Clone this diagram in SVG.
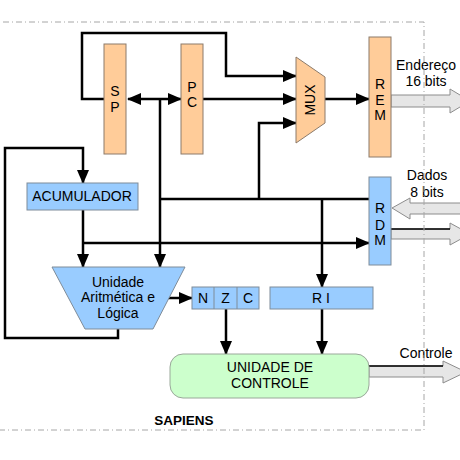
<svg xmlns="http://www.w3.org/2000/svg" width="460" height="460" viewBox="0 0 460 460">
<style>
.t{font-family:"Liberation Sans",Arial,sans-serif;font-size:14px;fill:#000;text-anchor:middle}
.b{font-weight:bold;font-size:13.5px}
.peach{fill:#FFCC99;stroke:#8C7B6B;stroke-width:1}
.blue{fill:#99CCFF;stroke:#7F8C99;stroke-width:1}
.green{fill:#CCFFCC;stroke:#9AA89A;stroke-width:1}
.bus{fill:#E6E6E6;stroke:#8C8C8C;stroke-width:1}
.c{fill:none;stroke:#000;stroke-width:2.5}
.ca{fill:none;stroke:#000;stroke-width:2.5;marker-end:url(#ah)}
.frame{fill:none;stroke:#A6A6A6;stroke-width:1;stroke-dasharray:6 3 1 3}
</style>
<defs>
<marker id="ah" markerUnits="userSpaceOnUse" markerWidth="14" markerHeight="12" refX="13" refY="6" orient="auto-start-reverse" viewBox="0 0 14 12">
<path d="M0,0 L14,6 L0,12 Z" fill="#000"/>
</marker>
</defs>
<rect width="460" height="460" fill="#fff"/>

<g id="buses">
<polygon class="bus" points="391,95 450,95 450,89 470,101 450,113 450,107 391,107"/>
<polygon class="bus" points="392,208 410,198 410,203 470,203 470,214 410,214 410,219"/>
<polygon class="bus" points="391,229 450,229 450,223 470,234 450,245 450,239 391,239"/>
<line x1="391" y1="229" x2="450" y2="229" stroke="#000" stroke-width="1.5"/>
<polygon class="bus" points="369,366 443,366 443,361 466,372 443,383 443,377 369,377"/>
<line x1="369" y1="366" x2="443" y2="366" stroke="#000" stroke-width="1.5"/>
</g>

<g id="connectors">
<path class="ca" d="M104,99 H82 V33 H226 V76 H296"/>
<path class="c" d="M128,99 H181" marker-start="url(#ah)" marker-end="url(#ah)"/>
<path class="ca" d="M160,99 V267"/>
<path class="c" d="M160,199 H369"/>
<path class="ca" d="M259,199 V123 H296"/>
<path class="ca" d="M203,99 H296"/>
<path class="ca" d="M325,99 H369"/>
<path class="ca" d="M322,199 V287"/>
<path class="ca" d="M83,210 V267"/>
<path class="ca" d="M83,243 H369"/>
<path class="ca" d="M118,329 V338 H5 V148 H83 V183"/>
<path class="ca" d="M168,298 H192"/>
<path class="ca" d="M226,309 V354"/>
<path class="ca" d="M322,309 V354"/>
</g>

<g id="SP">
<rect class="peach" x="104" y="44" width="22" height="110"/>
<text class="t" x="115" y="96">S</text>
<text class="t" x="115" y="112">P</text>
</g>
<g id="PC">
<rect class="peach" x="181" y="44" width="22" height="110"/>
<text class="t" x="192" y="92">P</text>
<text class="t" x="192" y="107">C</text>
</g>
<g id="MUX">
<polygon class="peach" points="296,57 325,77 325,123 296,143"/>
<text class="t" transform="translate(315,100) rotate(-90)">MUX</text>
</g>
<g id="REM">
<rect class="peach" x="369" y="37" width="22" height="120"/>
<text class="t" x="380" y="89">R</text>
<text class="t" x="380" y="105">E</text>
<text class="t" x="380" y="120">M</text>
</g>
<g id="RDM">
<rect class="blue" x="369" y="177" width="22" height="88"/>
<text class="t" x="380" y="213">R</text>
<text class="t" x="380" y="230">D</text>
<text class="t" x="380" y="245">M</text>
</g>
<g id="ACUMULADOR">
<rect class="blue" x="27" y="183" width="111" height="27"/>
<text class="t" x="82" y="201">ACUMULADOR</text>
</g>
<g id="ULA">
<polygon class="blue" points="52,267 185,267 153,329 85,329"/>
<text class="t" x="118" y="287">Unidade</text>
<text class="t" x="118" y="302">Aritmética e</text>
<text class="t" x="118" y="318">Lógica</text>
</g>
<g id="NZC">
<rect class="blue" x="192" y="287" width="67" height="22"/>
<line x1="214" y1="287" x2="214" y2="309" stroke="#7F8C99"/>
<line x1="237" y1="287" x2="237" y2="309" stroke="#7F8C99"/>
<text class="t" x="203" y="303">N</text>
<text class="t" x="225.500" y="303">Z</text>
<text class="t" x="248" y="303">C</text>
</g>
<g id="RI">
<rect class="blue" x="270" y="287" width="103" height="22"/>
<text class="t" x="321" y="303">R I</text>
</g>
<g id="UC">
<rect class="green" x="170" y="354" width="199" height="44" rx="13"/>
<text class="t" x="270" y="372">UNIDADE DE</text>
<text class="t" x="270" y="388">CONTROLE</text>
</g>

<g id="labels">
<text class="t" x="426" y="70">Endereço</text>
<text class="t" x="426" y="86">16 bits</text>
<text class="t" x="427" y="180">Dados</text>
<text class="t" x="427" y="197">8 bits</text>
<text class="t" x="426" y="358">Controle</text>
<text class="t b" x="184" y="425">SAPIENS</text>
</g>

<g id="frame">
<path class="frame" d="M3,22 H424 V430 H0"/>
</g>
</svg>
